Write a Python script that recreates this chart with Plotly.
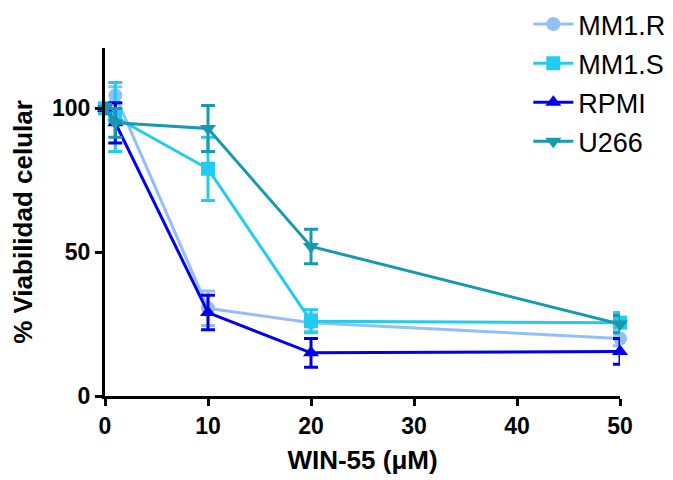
import plotly.graph_objects as go

x_vals = [0, 1, 10, 20, 50]
series_names = ["MM1.R", "MM1.S", "RPMI", "U266"]
mm1r = [100, 104.5, 30.5, 25.5, 20]
mm1r_err = [1.5, 3, 6, 3, 2.5]
mm1s = [100, 97, 79, 26, 25.5]
mm1s_err = [1.5, 12, 11, 4, 3.5]
rpmi = [100, 95, 29, 15, 15.5]
rpmi_err = [1.5, 7, 6, 5, 4.5]
u266 = [100, 95, 93, 52, 25]
u266_err = [1.5, 5, 8, 6, 3]

colors = ["#94BEF6", "#22CCEE", "#0000EE", "#1899B0"]
symbols = ["circle", "square", "triangle-up", "triangle-down"]
values = [mm1r, mm1s, rpmi, u266]
errors = [mm1r_err, mm1s_err, rpmi_err, u266_err]

fig = go.Figure()
for name, y, e, c, s in zip(series_names, values, errors, colors, symbols):
    fig.add_trace(go.Scatter(
        x=x_vals, y=y, name=name, mode="lines+markers", legendgroup=name,
        line=dict(color=c, width=3),
        marker=dict(color=c, symbol=s, size=14),
        error_y=dict(type="data", array=e, visible=True, color=c, thickness=3, width=7),
        cliponaxis=False,
    ))

sans = "Liberation Sans, Arial, sans-serif"
tick_font = dict(family=sans, size=23, color="black", weight="bold")
fig.update_layout(
    width=673, height=480,
    margin=dict(l=105, r=53, t=48, b=84, autoexpand=False),
    plot_bgcolor="white", paper_bgcolor="white",
    showlegend=True,
    legend=dict(xref="container", yref="container", x=0.785, y=1.005, xanchor="left", yanchor="top",
                font=dict(family=sans, size=27, color="black"),
                tracegroupgap=1, itemwidth=40, bgcolor="rgba(0,0,0,0)"),
    xaxis=dict(range=[0, 50], tickvals=[0, 10, 20, 30, 40, 50], showgrid=False, zeroline=False,
               showline=True, linecolor="black", linewidth=3, ticks="outside", tickwidth=3,
               ticklen=7, tickcolor="black", tickfont=tick_font,
               title=dict(text="WIN-55 (μM)", font=dict(family=sans, size=26, color="black", weight="bold"), standoff=14)),
    yaxis=dict(range=[0, 121], tickvals=[0, 50, 100], showgrid=False, zeroline=False,
               showline=True, linecolor="black", linewidth=3, ticks="outside", tickwidth=3,
               ticklen=7, tickcolor="black", tickfont=tick_font,
               title=dict(text="% Viabilidad celular", font=dict(family=sans, size=26, color="black", weight="bold"), standoff=12)),
)
fig.write_html("out.html")
